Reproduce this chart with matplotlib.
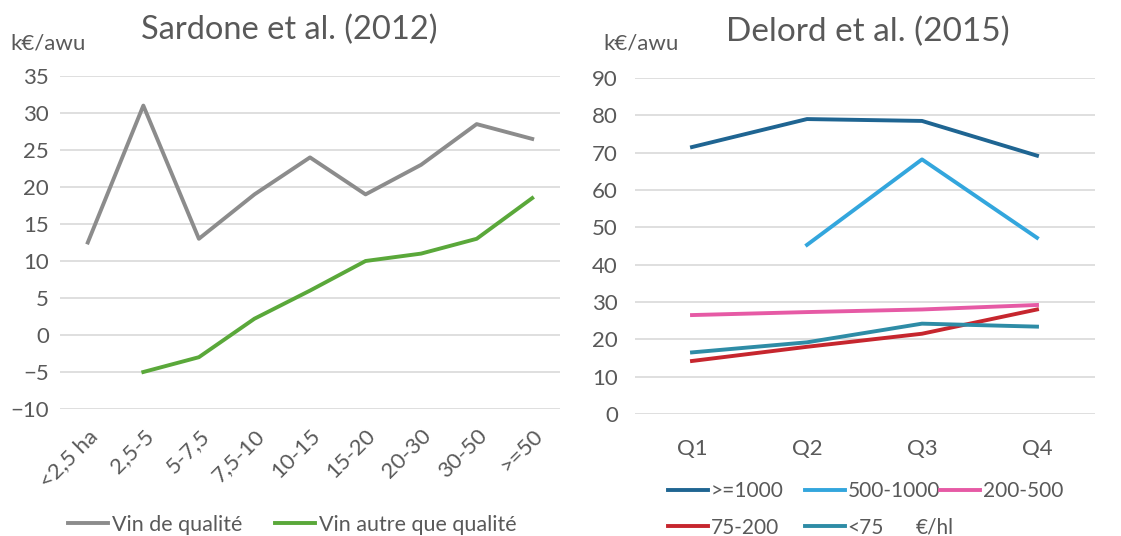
#!/usr/bin/env python
"""
Labour productivity of wine farms: Sardone et al. (2012) and Delord et al. (2015).
"""

# Third party modules.
import numpy as np
import matplotlib
matplotlib.use("Agg")
import matplotlib.pyplot as plt

# Globals and constants variables.
sizeClasses = ["<2,5 ha", "2,5-5", "5-7,5", "7,5-10", "10-15", "15-20", "20-30", "30-50", ">=50"]
vinQualite = [12.5, 31.0, 13.0, 19.0, 24.0, 19.0, 23.0, 28.5, 26.5]
vinAutre = [np.nan, -5.0, -3.0, 2.2, 6.0, 10.0, 11.0, 13.0, 18.5]

quartiles = ["Q1", "Q2", "Q3", "Q4"]
price1000 = [71.5, 79.0, 78.5, 69.2]
price500 = [np.nan, 45.3, 68.2, 47.2]
price200 = [26.5, 27.3, 28.0, 29.2]
price75 = [14.2, 18.0, 21.5, 28.0]
priceLow = [16.5, 19.2, 24.2, 23.4]

TEXT_COLOR = "#595959"
GRID_COLOR = "#d9d9d9"
LW = 2.8

plt.rcParams["font.family"] = ["Lato", "DejaVu Sans"]


def styleAxis(ax):
    for spine in ax.spines.values():
        spine.set_visible(False)
    ax.tick_params(axis="both", length=0, labelsize=16, labelcolor=TEXT_COLOR)
    ax.yaxis.grid(True, color=GRID_COLOR, linewidth=1.2)
    ax.set_axisbelow(True)


def run():
    fig = plt.figure(figsize=(11.21, 5.36), dpi=100)

    # Left panel
    ax1 = fig.add_axes([60 / 1121, 1 - 409 / 536, 500 / 1121, 333 / 536])
    styleAxis(ax1)
    x1 = np.arange(len(sizeClasses))
    l1, = ax1.plot(x1, vinQualite, color="#8c8c8c", linewidth=LW, solid_joinstyle="round", label="Vin de qualité")
    l2, = ax1.plot(x1, vinAutre, color="#5aa83a", linewidth=LW, solid_joinstyle="round", label="Vin autre que qualité")
    ax1.set_xlim(-0.5, len(sizeClasses) - 0.5)
    ax1.set_ylim(-10, 35)
    ax1.set_yticks(np.arange(-10, 36, 5))
    ax1.set_xticks(x1)
    ax1.set_xticklabels(sizeClasses, rotation=45, ha="right", rotation_mode="anchor")
    ax1.tick_params(axis="x", pad=12)
    ax1.tick_params(axis="y", pad=8)
    fig.text(289 / 1121, 1 - 30 / 536, "Sardone et al. (2012)", ha="center", va="center",
             fontsize=23.5, color=TEXT_COLOR)
    fig.text(10 / 1121, 1 - 44 / 536, "k€/awu", ha="left", va="center", fontsize=16, color=TEXT_COLOR)
    fig.legend(handles=[l1, l2], loc="center left", bbox_to_anchor=(68 / 1121, 1 - 525 / 536),
               ncol=2, frameon=False, fontsize=15.5, borderpad=0, borderaxespad=0,
               handlelength=1.85, handletextpad=0.2, columnspacing=1.5, labelcolor=TEXT_COLOR)

    # Right panel
    ax2 = fig.add_axes([634.5 / 1121, 1 - 414 / 536, 460 / 1121, 336 / 536])
    styleAxis(ax2)
    x2 = np.arange(len(quartiles))
    h1, = ax2.plot(x2, price1000, color="#1f6592", linewidth=LW, label=">=1000")
    h2, = ax2.plot(x2, price500, color="#33a6dd", linewidth=LW, label="500-1000")
    h3, = ax2.plot(x2, price200, color="#e65aa5", linewidth=LW, label="200-500")
    h4, = ax2.plot(x2, price75, color="#c6262e", linewidth=LW, label="75-200")
    h5, = ax2.plot(x2, priceLow, color="#2e8ca6", linewidth=LW, label="<75")
    ax2.set_xlim(-0.5, len(quartiles) - 0.5)
    ax2.set_ylim(0, 90)
    ax2.set_yticks(np.arange(0, 91, 10))
    ax2.set_xticks(x2)
    ax2.set_xticklabels(quartiles)
    ax2.tick_params(axis="x", pad=18)
    ax2.tick_params(axis="y", pad=12)
    fig.text(868 / 1121, 1 - 32 / 536, "Delord et al. (2015)", ha="center", va="center",
             fontsize=24, color=TEXT_COLOR)
    fig.text(603 / 1121, 1 - 44 / 536, "k€/awu", ha="left", va="center", fontsize=16, color=TEXT_COLOR)

    # one legend per column so the columns sit where Excel put them
    legendColumns = [([h1, h4], 668), ([h2, h5], 805), ([h3], 940)]
    for handles, xPos in legendColumns:
        fig.legend(handles=handles, loc="upper left", bbox_to_anchor=(xPos / 1121, 1 - 481 / 536),
                   frameon=False, fontsize=15, borderpad=0, borderaxespad=0,
                   handlelength=1.9, handletextpad=0.15, labelspacing=0.8,
                   labelcolor=TEXT_COLOR)
    fig.text(916 / 1121, 1 - 528 / 536, "€/hl", ha="left", va="center", fontsize=15, color=TEXT_COLOR)

    fig.savefig("out.png", dpi=100, facecolor="white")


if __name__ == '__main__':
    run()
